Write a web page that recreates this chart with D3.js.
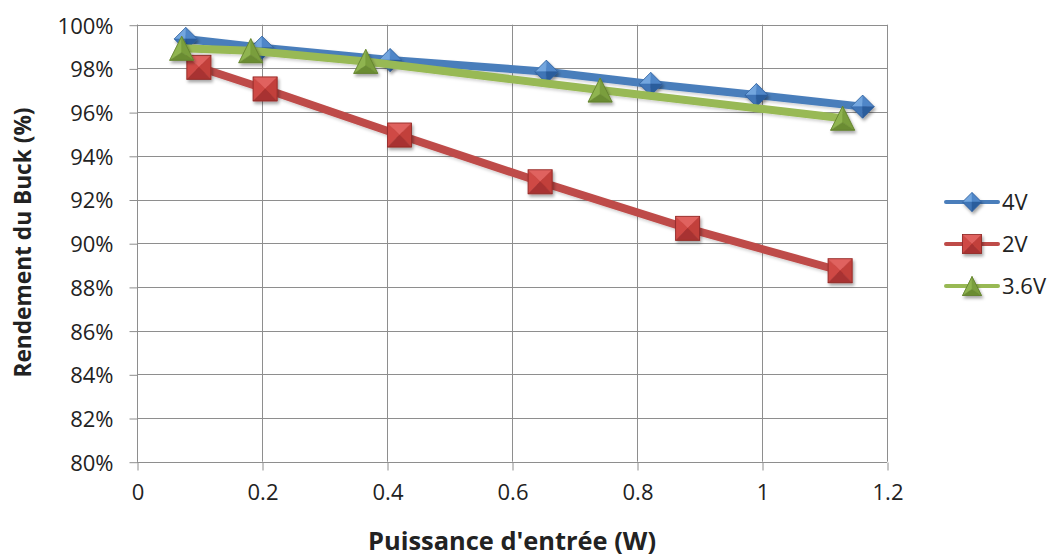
<!DOCTYPE html>
<html>
<head>
<meta charset="utf-8">
<script src="https://cdn.jsdelivr.net/npm/d3@7"></script>
<style>
  html, body { margin: 0; padding: 0; background: #fff; }
  svg { display: block; }
  text { font-family: "Open Sans", "DejaVu Sans", sans-serif; fill: #222; }
</style>
</head>
<body>
<svg id="chart" width="1056" height="556"></svg>
<script>
// ---- Data ----
const seriesNames = ["4V", "2V", "3.6V"];
const x4V = [0.078, 0.200, 0.405, 0.655, 0.822, 0.991, 1.161];
const y4V = [99.35, 98.95, 98.38, 97.85, 97.29, 96.78, 96.25];
const x2V = [0.099, 0.205, 0.420, 0.645, 0.881, 1.125];
const y2V = [98.05, 97.06, 94.95, 92.81, 90.68, 88.74];
const x36V = [0.0715, 0.182, 0.366, 0.741, 1.129];
const y36V = [98.92, 98.81, 98.32, 97.01, 95.72];
const xTicks = [0, 0.2, 0.4, 0.6, 0.8, 1, 1.2];
const xTickLabels = ["0", "0.2", "0.4", "0.6", "0.8", "1", "1.2"];
const yTicks = [80, 82, 84, 86, 88, 90, 92, 94, 96, 98, 100];
const yTickLabels = ["80%", "82%", "84%", "86%", "88%", "90%", "92%", "94%", "96%", "98%", "100%"];
const xTitle = "Puissance d'entrée (W)";
const yTitle = "Rendement du Buck (%)";

// ---- Layout ----
const svg = d3.select("#chart");
const L = 137, R = 887, T = 24.7, B = 461.7;
const x = d3.scaleLinear().domain([0, 1.2]).range([L, R]);
const y = d3.scaleLinear().domain([80, 100]).range([B, T]);

const defs = svg.append("defs");
const f = defs.append("filter").attr("id", "shadow").attr("x", "-50%").attr("y", "-50%").attr("width", "200%").attr("height", "200%");
f.append("feDropShadow").attr("dx", 1.5).attr("dy", 2.5).attr("stdDeviation", 1.8).attr("flood-color", "#000").attr("flood-opacity", 0.35);
const f2 = defs.append("filter").attr("id", "lshadow").attr("x", "-10%").attr("y", "-50%").attr("width", "120%").attr("height", "200%");
f2.append("feDropShadow").attr("dx", 1).attr("dy", 2).attr("stdDeviation", 1.5).attr("flood-color", "#000").attr("flood-opacity", 0.18);

const gridColor = "#8e8e8e";

// Grid
const g = svg.append("g");
g.selectAll("line.hg").data(yTicks).join("line")
  .attr("x1", L).attr("x2", R)
  .attr("y1", d => Math.round(y(d)) + 0.5).attr("y2", d => Math.round(y(d)) + 0.5)
  .attr("stroke", gridColor).attr("stroke-width", 1);
g.selectAll("line.vg").data(xTicks).join("line")
  .attr("y1", T).attr("y2", B)
  .attr("x1", d => Math.round(x(d)) + 0.5).attr("x2", d => Math.round(x(d)) + 0.5)
  .attr("stroke", gridColor).attr("stroke-width", 1);

// Axes
const xAxis = d3.axisBottom(x).tickValues(xTicks).tickFormat((d, i) => xTickLabels[i]).tickSize(8).tickPadding(14);
const yAxis = d3.axisLeft(y).tickValues(yTicks).tickFormat((d, i) => yTickLabels[i]).tickSize(8).tickPadding(16);
const gx = svg.append("g").attr("transform", `translate(0.5,${Math.round(B) + 0.5})`).call(xAxis);
const gy = svg.append("g").attr("transform", `translate(${L + 0.5},0.5)`).call(yAxis);
[gx, gy].forEach(a => {
  a.select(".domain").remove();
  a.selectAll(".tick line").attr("stroke", gridColor);
  a.selectAll(".tick text").style("font-size", "22px").attr("fill", "#2a2a2a").style("font-family", '"Open Sans", sans-serif');
});
gx.selectAll(".tick text").attr("dy", "0.71em");
gy.selectAll(".tick text").attr("dy", "0.36em");
// axis lines
svg.append("line").attr("x1", L + 0.5).attr("x2", L + 0.5).attr("y1", T).attr("y2", B).attr("stroke", gridColor);
svg.append("line").attr("x1", L).attr("x2", R).attr("y1", Math.round(B) + 0.5).attr("y2", Math.round(B) + 0.5).attr("stroke", gridColor);

// Titles
svg.append("text").attr("x", 512).attr("y", 550).attr("text-anchor", "middle")
  .attr("textLength", 288).attr("lengthAdjust", "spacingAndGlyphs")
  .style("font-size", "25px").style("font-weight", "bold").attr("fill", "#1a1a1a").text(xTitle);
svg.append("text").attr("transform", "translate(31,242.5) rotate(-90)").attr("text-anchor", "middle")
  .attr("textLength", 270).attr("lengthAdjust", "spacingAndGlyphs")
  .style("font-size", "24px").style("font-weight", "bold").attr("fill", "#1a1a1a").text(yTitle);

// Marker drawers
function diamond(sel, cx, cy, s) {
  const gg = sel.append("g").attr("filter", "url(#shadow)").attr("transform", `translate(${cx},${cy})`);
  const facets = [
    [[0, -s], [-s, 0], [0, 0], "#73a6df"],
    [[0, -s], [s, 0], [0, 0], "#4f86c8"],
    [[-s, 0], [0, s], [0, 0], "#3f74b6"],
    [[s, 0], [0, s], [0, 0], "#2c5d9c"]
  ];
  facets.forEach(fc => gg.append("path").attr("d", `M${fc[0]}L${fc[1]}L${fc[2]}Z`).attr("fill", fc[3]).attr("stroke", fc[3]).attr("stroke-width", 0.5));
  gg.append("path").attr("d", `M0,${-s}L${s},0L0,${s}L${-s},0Z`).attr("fill", "none").attr("stroke", "#2e5e9a").attr("stroke-width", 0.8);
}
function square(sel, cx, cy, s) {
  const gg = sel.append("g").attr("filter", "url(#shadow)").attr("transform", `translate(${cx},${cy})`);
  const facets = [
    [[-s, -s], [s, -s], [0, 0], "#e0625e"],
    [[-s, -s], [-s, s], [0, 0], "#cf4945"],
    [[s, -s], [s, s], [0, 0], "#c23f3b"],
    [[-s, s], [s, s], [0, 0], "#a83330"]
  ];
  facets.forEach(fc => gg.append("path").attr("d", `M${fc[0]}L${fc[1]}L${fc[2]}Z`).attr("fill", fc[3]).attr("stroke", fc[3]).attr("stroke-width", 0.5));
  gg.append("rect").attr("x", -s).attr("y", -s).attr("width", 2 * s).attr("height", 2 * s).attr("fill", "none").attr("stroke", "#8e2a27").attr("stroke-width", 0.8);
}
function triangle(sel, cx, cy, s) {
  const gg = sel.append("g").attr("filter", "url(#shadow)").attr("transform", `translate(${cx},${cy})`);
  const top = [0, -s], bl = [-s, s], br = [s, s], c = [0, s * 0.35];
  gg.append("path").attr("d", `M${top}L${bl}L${c}Z`).attr("fill", "#8fb44f").attr("stroke", "#8fb44f").attr("stroke-width", 0.5);
  gg.append("path").attr("d", `M${top}L${br}L${c}Z`).attr("fill", "#7a9e3c").attr("stroke", "#7a9e3c").attr("stroke-width", 0.5);
  gg.append("path").attr("d", `M${bl}L${br}L${c}Z`).attr("fill", "#6b8c33").attr("stroke", "#6b8c33").attr("stroke-width", 0.5);
  gg.append("path").attr("d", `M${top}L${bl}L${br}Z`).attr("fill", "none").attr("stroke", "#5f7e2c").attr("stroke-width", 0.8);
}

const series = [
  { name: seriesNames[0], xs: x4V, ys: y4V, color: "#4a7ebb", marker: diamond, size: 11.5, lsize: 9.5 },
  { name: seriesNames[1], xs: x2V, ys: y2V, color: "#be4b48", marker: square, size: 12, lsize: 9.5 },
  { name: seriesNames[2], xs: x36V, ys: y36V, color: "#98b954", marker: triangle, size: 12, lsize: 9.5 }
];

const line = d3.line().x(d => x(d[0])).y(d => y(d[1]));
const plot = svg.append("g");
series.forEach(s => {
  const pts = s.xs.map((v, i) => [v, s.ys[i]]);
  plot.append("path").datum(pts).attr("d", line).attr("fill", "none")
    .attr("stroke", s.color).attr("stroke-width", 8).attr("stroke-linejoin", "round").attr("stroke-linecap", "round")
    .attr("filter", "url(#lshadow)");
  pts.forEach(p => s.marker(plot, x(p[0]), y(p[1]), s.size));
});

// Legend
const legY = [202, 244, 286];
const leg = svg.append("g");
series.forEach((s, i) => {
  leg.append("line").attr("x1", 946).attr("x2", 998).attr("y1", legY[i]).attr("y2", legY[i])
    .attr("stroke", s.color).attr("stroke-width", 4).attr("stroke-linecap", "round");
  s.marker(leg, 972, legY[i], s.lsize);
  leg.append("text").attr("x", 1002).attr("y", legY[i]).attr("dy", "0.36em")
    .style("font-size", "22px").attr("fill", "#2a2a2a").text(s.name);
});
</script>
</body>
</html>
